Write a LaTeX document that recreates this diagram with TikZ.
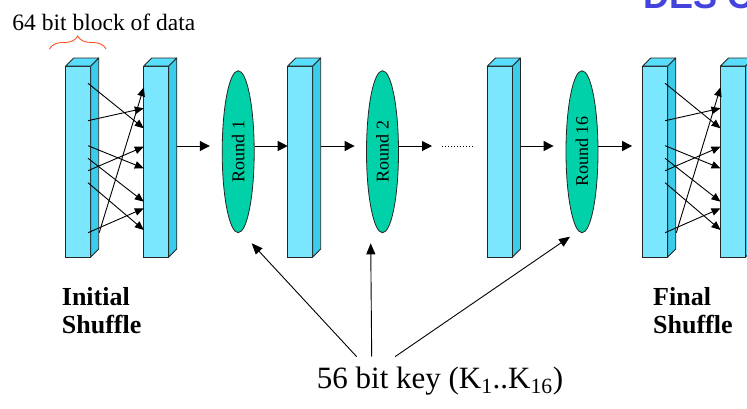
\documentclass[tikz,border=0pt]{standalone}
\usepackage{fontspec}
\setmainfont{Liberation Serif}
\newfontfamily\headsans{Liberation Sans}
\usetikzlibrary{arrows.meta,calc,decorations.pathreplacing,shapes.geometric}

\definecolor{slabfront}{RGB}{122,231,255}
\definecolor{slabside}{RGB}{58,205,235}
\definecolor{slabtop}{RGB}{88,222,250}
\definecolor{roundfill}{RGB}{0,209,168}
\definecolor{bracecol}{RGB}{255,80,30}
\definecolor{titleblue}{RGB}{68,68,221}

\tikzset{
  slab/.style={draw=black!85, fill=slabfront, line width=0.8pt,
    minimum width=25pt, minimum height=191pt, inner sep=0pt, outer sep=0pt},
  slabface/.style={draw=black!85, line width=0.8pt, line join=round},
  roundnode/.style={ellipse, draw=black!85, fill=roundfill, line width=0.8pt,
    minimum width=32pt, minimum height=162pt, inner sep=0pt,
    font=\fontsize{18}{20}\selectfont},
  flow/.style={-{Triangle[length=10pt,width=10pt]}, line width=1pt},
  mix/.style={-{Triangle[length=9pt,width=7.5pt]}, line width=0.9pt},
  keyarrow/.style={-{Triangle[length=11pt,width=9pt]}, line width=0.9pt},
  caption/.style={font=\bfseries\fontsize{26}{28}\selectfont, align=left,
    anchor=base west, inner sep=0pt},
}

% one 3-D register slab: front face as a node, side and top faces added
\newcommand\drawslab[2]{%
  \node[slab] (#1) at (#2,161.5) {};
  \filldraw[slabface, fill=slabside] (#1.north east) -- ++(8,-8) -- ++(0,191)
    -- (#1.south east) -- cycle;
  \filldraw[slabface, fill=slabtop] (#1.north west) -- ++(8,-8) -- ++(25,0)
    -- (#1.north east) -- cycle;
}

\begin{document}
\begin{tikzpicture}[x=1pt,y=-1pt]
\useasboundingbox (0,0) rectangle (747,408);
\clip (0,0) rectangle (747,408);

% heading in the corner
\node[anchor=base west, inner sep=0pt, text=titleblue,
  font=\headsans\bfseries\fontsize{36}{40}\selectfont] (title) at (643,8.5) {DES C};

% data block label with brace
\node[anchor=base west, inner sep=0pt, font=\fontsize{23.5}{26}\selectfont]
  (blocklabel) at (12.3,30) {64 bit block of data};
\draw[bracecol, line width=0.9pt, decorate,
  decoration={brace, amplitude=13pt}] (49.5,49) -- (106,49);

% slabs
\drawslab{b1}{78.2}
\drawslab{b2}{156.3}
\drawslab{b3}{300.2}
\drawslab{b4}{500}
\drawslab{b5}{655.3}
\drawslab{b6}{733}

% rounds
\node[roundnode] (e1) at (238.2,151.7) {\rotatebox{90}{Round 1}};
\node[roundnode] (e2) at (382.5,151.7) {\rotatebox{90}{Round 2}};
\node[roundnode] (e16) at (582,151.7) {\rotatebox{90}{Round 16}};

% shuffle wiring between slab pairs
\coordinate (s1) at ($(b1.east)+(-2.7,0)$);
\coordinate (s5) at ($(b5.east)+(-2.7,0)$);
\foreach \a/\b in {83.3/128.3, 120.7/108.3, 145.7/168.3, 158.3/201.7,
                   170.7/146.7, 182.7/230, 232.7/208.3} {
  \draw[mix] (s1 |- 0,\a) -- (b2.west |- 0,\b);
  \draw[mix] (s5 |- 0,\a) -- (b6.west |- 0,\b);
}
\draw[mix] ($(b1.east |- 0,232.7)+(8.5,0)$) -- (b2.west |- 0,87.3);
\draw[mix] ($(b5.east |- 0,232.7)+(8.5,0)$) -- (b6.west |- 0,87.3);

% data path
\coordinate (lane) at (0,146);
\draw[flow] ($(b2.east |- lane)+(8,0)$) -- ($(e1.west |- lane)+(-12,0)$);
\draw[flow] (e1.east |- lane) -- (b3.west |- lane);
\draw[flow] ($(b3.east |- lane)+(8,0)$) -- ($(e2.west |- lane)+(-11.5,0)$);
\coordinate (dl) at (442,146);
\coordinate (dr) at (475,146);
\draw[flow] (e2.east |- lane) -- ($(dl)+(-10,0)$);
\draw[line width=0.8pt, dash pattern=on 1pt off 2pt] (dl) -- (dr);
\draw[flow] ($(b4.east |- lane)+(8,0)$) -- ($(e16.west |- lane)+(-12,0)$);
\draw[flow] (e16.east |- lane) -- ($(b5.west |- lane)+(-10.7,0)$);

% captions
\node[caption] (initcap) at (61.7,333) {Initial\\Shuffle};
\node[caption] (finalcap) at (653,333) {Final\\Shuffle};

% key schedule
\node[anchor=base west, inner sep=0pt, font=\fontsize{31}{34}\selectfont]
  (key) at (316.7,388) {56 bit key (K\textsubscript{1}..K\textsubscript{16})};
\coordinate (k1) at (251.7,243.3);
\coordinate (k2) at (370.7,243.3);
\coordinate (k3) at (570,236.7);
\coordinate (ks1) at (356.7,356.7);
\coordinate (ks2) at (371.7,356.7);
\coordinate (ks3) at (395,356.7);
\draw[keyarrow] (ks1) -- (k1);
\draw[keyarrow] (ks2) -- (k2);
\draw[keyarrow] (ks3) -- (k3);
\end{tikzpicture}
\end{document}
